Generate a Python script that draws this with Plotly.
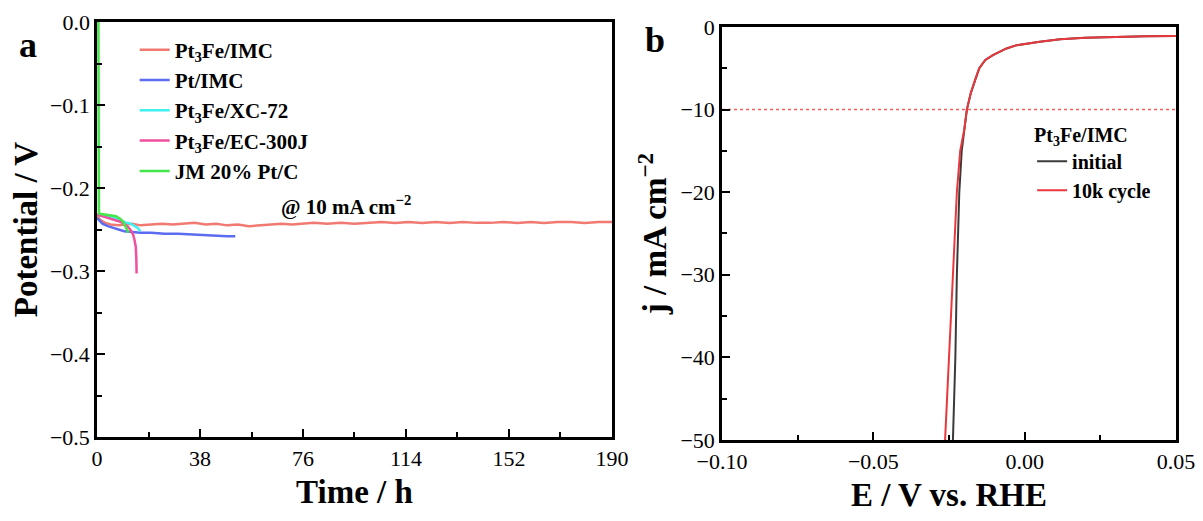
import plotly.graph_objects as go

# ---------------- Panel a data (chronopotentiometry @ 10 mA cm-2) ----------------
t_pt3fe_imc = [0, 1, 3, 5, 8, 10, 13, 16, 20, 24, 28, 32, 36, 40, 44, 48, 52, 56, 60, 64, 68,
               72, 76, 80, 85, 90, 95, 100, 105, 110, 115, 120, 125, 130, 135, 140, 145, 150,
               155, 160, 165, 170, 175, 180, 185, 190]
v_pt3fe_imc = [-0.232, -0.238, -0.242, -0.244, -0.245, -0.244, -0.243, -0.245, -0.244, -0.243,
               -0.244, -0.243, -0.242, -0.244, -0.243, -0.245, -0.244, -0.246, -0.245, -0.244,
               -0.243, -0.244, -0.243, -0.242, -0.243, -0.242, -0.243, -0.242, -0.241, -0.242,
               -0.241, -0.242, -0.241, -0.242, -0.241, -0.242, -0.242, -0.241, -0.242, -0.241,
               -0.242, -0.241, -0.241, -0.242, -0.241, -0.241]

t_pt_imc = [0, 1, 2, 4, 6, 8, 10, 13, 16, 20, 25, 30, 35, 40, 45, 48, 51]
v_pt_imc = [-0.236, -0.240, -0.243, -0.246, -0.248, -0.250, -0.252, -0.253, -0.254, -0.254,
            -0.255, -0.255, -0.256, -0.257, -0.258, -0.258, -0.258]

t_xc72 = [0, 1, 3, 5, 7, 8.5, 9.6, 11, 12.5, 14, 15, 16]
v_xc72 = [-0.231, -0.233, -0.234, -0.235, -0.237, -0.239, -0.241, -0.242, -0.243, -0.246,
          -0.248, -0.252]

t_ec300j = [0, 2, 4, 6, 8, 10, 11.5, 12.5, 13.3, 13.8, 14.3, 14.5, 14.6]
v_ec300j = [-0.232, -0.234, -0.236, -0.238, -0.240, -0.243, -0.247, -0.251, -0.256, -0.262,
            -0.271, -0.285, -0.303]

t_jm = [0.5, 0.6, 0.7, 1, 3, 5, 7, 8.5, 9.5, 10.3, 11, 11.6]
v_jm = [0.0, -0.120, -0.229, -0.231, -0.232, -0.233, -0.234, -0.237, -0.240, -0.245, -0.250,
        -0.254]

# ---------------- Panel b data (LSV before/after 10k cycles) ----------------
e_10k = [-0.0263, -0.0250, -0.0238, -0.0224, -0.0213, -0.0200, -0.0191, -0.0178, -0.0164,
         -0.0150, -0.0130, -0.0105, -0.0060, -0.0026, 0.0050, 0.0117, 0.0200, 0.0305, 0.0400,
         0.0500]
j_10k = [-50, -40, -30, -20, -15, -12.5, -10, -8, -6.4, -5.0, -4.0, -3.4, -2.6, -2.2, -1.8,
         -1.5, -1.3, -1.17, -1.12, -1.08]

e_init = [-0.0237, -0.0229, -0.0224, -0.0216, -0.0208, -0.0200, -0.0191, -0.0178, -0.0164,
          -0.0150, -0.0130, -0.0105, -0.0060, -0.0026, 0.0050, 0.0117, 0.0200, 0.0305, 0.0400,
          0.0500]
j_init = [-50, -40, -30, -20, -15, -12.5, -10, -8, -6.4, -5.0, -4.0, -3.4, -2.6, -2.2, -1.8,
          -1.5, -1.3, -1.17, -1.12, -1.08]

ref_current = -10
xa_ticks = [0, 38, 76, 114, 152, 190]

FONT = "Liberation Serif"

fig = go.Figure()

series_a = [
    ("Pt<sub>3</sub>Fe/IMC", t_pt3fe_imc, v_pt3fe_imc, "#f07a72"),
    ("Pt/IMC", t_pt_imc, v_pt_imc, "#5b6cf0"),
    ("Pt<sub>3</sub>Fe/XC-72", t_xc72, v_xc72, "#3ff0f0"),
    ("Pt<sub>3</sub>Fe/EC-300J", t_ec300j, v_ec300j, "#f0509e"),
    ("JM 20% Pt/C", t_jm, v_jm, "#45e64a"),
]
for i, (name, t, v, c) in enumerate(series_a):
    fig.add_trace(go.Scatter(x=t, y=v, mode="lines", name=name, line=dict(color=c, width=2.5),
                             xaxis="x", yaxis="y", legend="legend", legendgroup=f"a{i}"))

fig.add_trace(go.Scatter(x=[-0.1, 0.05], y=[ref_current, ref_current], mode="lines",
                         line=dict(color="#f06060", width=1.5, dash="dot"), showlegend=False,
                         xaxis="x2", yaxis="y2"))
fig.add_trace(go.Scatter(x=e_init, y=j_init, mode="lines", name="initial",
                         line=dict(color="#3a3a3a", width=2), xaxis="x2", yaxis="y2",
                         legend="legend2", legendgroup="b0"))
fig.add_trace(go.Scatter(x=e_10k, y=j_10k, mode="lines", name="10k cycle",
                         line=dict(color="#e8383d", width=2), xaxis="x2", yaxis="y2",
                         legend="legend2", legendgroup="b1"))

tickfont = dict(family=FONT, size=22, color="black")
titlefont = dict(family=FONT, size=33, color="black")

axis_common = dict(showline=True, linecolor="black", linewidth=2.5, mirror=True,
                   ticks="inside", ticklen=8, tickwidth=2, tickcolor="black",
                   showgrid=False, zeroline=False, tickfont=tickfont, automargin=False)

# page body has an 8px margin; figure sized so it fits the 1203x521 window
fig.update_layout(
    width=1195, height=513,
    margin=dict(l=0, r=0, t=0, b=0),
    paper_bgcolor="white", plot_bgcolor="white",
    font=dict(family=FONT, color="black"),
    xaxis=dict(domain=[0.0745, 0.5054], range=[0, 190], tickvals=xa_ticks,
               minor=dict(dtick=19, ticks="inside", ticklen=5, tickwidth=2, tickcolor="black"),
               title=dict(text="<b>Time / h</b>", font=titlefont, standoff=10),
               anchor="y", **axis_common),
    yaxis=dict(domain=[0.1637, 0.9727], range=[-0.5, 0], dtick=0.1, tickformat=".1f",
               minor=dict(dtick=0.05, ticks="inside", ticklen=5, tickwidth=2, tickcolor="black"),
               title=dict(text="<b>Potential / V</b>", font=titlefont, standoff=6),
               anchor="x", **axis_common),
    xaxis2=dict(domain=[0.5975, 0.9774], range=[-0.1, 0.05], dtick=0.05, tickformat=".2f",
                minor=dict(dtick=0.025, ticks="inside", ticklen=5, tickwidth=2, tickcolor="black"),
                title=dict(text="<b>E / V vs. RHE</b>", font=titlefont, standoff=10),
                anchor="y2", **axis_common),
    yaxis2=dict(domain=[0.1579, 0.963], range=[-50, 0], dtick=10,
                minor=dict(dtick=5, ticks="inside", ticklen=5, tickwidth=2, tickcolor="black"),
                title=dict(text="<b>j / mA cm<sup>−2</sup></b>", font=titlefont, standoff=4),
                anchor="x2", **axis_common),
    legend=dict(x=0.106, y=0.958, xanchor="left", yanchor="top", bgcolor="rgba(0,0,0,0)",
                font=dict(family=FONT, size=21, color="black", weight="bold"), tracegroupgap=0),
    legend2=dict(x=0.857, y=0.79, xanchor="left", yanchor="top", bgcolor="rgba(0,0,0,0)",
                 font=dict(family=FONT, size=20, color="black", weight="bold"), tracegroupgap=0,
                 title=dict(text="<b>Pt<sub>3</sub>Fe/IMC</b>",
                            font=dict(family=FONT, size=20, color="black"), side="top")),
    showlegend=True,
)

fig.add_annotation(text="<b>@ 10 mA cm<sup>−2</sup></b>", xref="x", yref="y", x=92, y=-0.2205,
                   xanchor="center", yanchor="middle", showarrow=False,
                   font=dict(family=FONT, size=21, color="black"))
fig.add_annotation(text="<b>a</b>", xref="paper", yref="paper", x=0.0167, y=0.928,
                   xanchor="center", yanchor="middle", showarrow=False,
                   font=dict(family=FONT, size=36, color="black"))
fig.add_annotation(text="<b>b</b>", xref="paper", yref="paper", x=0.5414, y=0.9376,
                   xanchor="center", yanchor="middle", showarrow=False,
                   font=dict(family=FONT, size=36, color="black"))

fig.write_html("out.html")
